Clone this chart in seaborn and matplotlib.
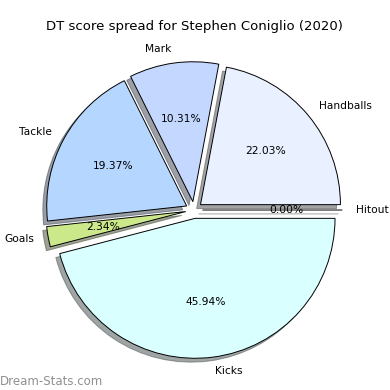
import matplotlib
matplotlib.use("Agg")
import matplotlib.pyplot as plt
import seaborn as sns

sns.set_style("white")

labels = ['Handballs', 'Mark', 'Tackle', 'Goals', 'Kicks', 'Hitout']
values = [22.03, 10.31, 19.37, 2.34, 45.94, 0.0]
colors = ['#e9f0ff', '#c4d8ff', '#b5d6ff', '#cbe88a', '#d9ffff', '#ffe4e1']
explode = [0.06] * len(values)

fig = plt.figure(figsize=(3.9, 3.9), dpi=100)
ax = fig.add_axes([0.049, 0.013, 0.897, 0.897])
wedges, texts, autotexts = ax.pie(values, labels=labels, colors=colors, explode=explode,
       shadow=True, autopct='%1.2f%%', startangle=0, counterclock=True,
       wedgeprops={'edgecolor': 'black', 'linewidth': 0.7},
       textprops={'fontsize': 7.7, 'color': 'black'})
ax.set_title('DT score spread for Stephen Coniglio (2020)', fontsize=9.5, color='black', pad=4)
fig.text(0.0, 0.012, 'Dream-Stats.com', color='#909090', fontsize=8.5)
fig.savefig('out.png', dpi=100)
